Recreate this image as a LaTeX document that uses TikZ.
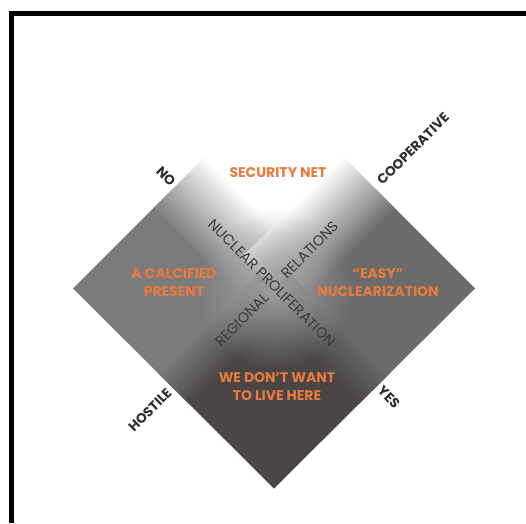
\documentclass[tikz,border=0pt]{standalone}
\usepackage{fontspec}
\setmainfont{Poppins}
\usepackage{tikz}
\usetikzlibrary{fadings}
\definecolor{Tangerine}{HTML}{E97A3D}
\definecolor{LeftGray}{HTML}{7C7B7B}
\definecolor{RightGray}{HTML}{6B6B6B}
\definecolor{LowGray}{HTML}{4A4646}
\definecolor{MidGray}{HTML}{A0A0A0}
\definecolor{AxisInk}{HTML}{2E2E2E}
\definecolor{CrossInk}{HTML}{3A3A3A}
\tikzfading[name=glowfade,inner color=transparent!0,outer color=transparent!100]

\begin{document}
\begin{tikzpicture}[x=1pt,y=1pt,
    field/.style={text=Tangerine,font=\bfseries\fontsize{14}{18}\selectfont,align=center,inner sep=0pt},
    axis/.style={text=AxisInk,font=\bfseries\fontsize{13.5}{13.5}\selectfont,inner sep=0pt},
    cross/.style={text=CrossInk,font=\fontsize{14.5}{14.5}\selectfont,inner sep=0pt}]
    \useasboundingbox (-274,-234.5) rectangle (252,288.5);
    \fill[white] (-274,-234.5) rectangle (252,288.5);
    \draw[line width=5pt] (-262.5,-234.5) -- (-262.5,275) -- (252,275);

    % the rotated 2x2 field
    \begin{scope}
        \clip (-201,0) -- (0,201) -- (201,0) -- (0,-200) -- cycle;
        \begin{scope}[transform canvas={rotate=45}]
            \fill[LeftGray] (-143,0) rectangle (0,143);
            \fill[RightGray] (0,-143) rectangle (143,0);
            \fill[LowGray] (-143,-143) rectangle (0,0);
            \fill[white] (0,0) rectangle (143,143);
            \shade[left color=LeftGray,right color=white] (-30,0) rectangle (45,143);
            \shade[bottom color=RightGray,top color=white] (0,-30) rectangle (143,45);
            \shade[bottom color=LowGray,top color=LeftGray] (-143,-22) rectangle (0,22);
            \shade[left color=LowGray,right color=RightGray] (-22,-143) rectangle (22,0);
        \end{scope}
        \fill[MidGray,path fading=glowfade] (0,0) circle (80);
    \end{scope}

    \node[field] (secnet) at (4,115.5) {SECURITY NET};
    \node[field] (calcified) at (-100,5.5) {A CALCIFIED\\PRESENT};
    \node[field] (easy) at (104,5.5) {“EASY”\\NUCLEARIZATION};
    \node[field] (livehere) at (3,-98) {WE DON’T WANT\\TO LIVE HERE};

    \node[cross,rotate=-45] (prolif) at (-2,5.5) {NUCLEAR PROLIFERATION};
    \node[cross,rotate=45] (regional) at (-32,-31.5) {REGIONAL};
    \node[cross,rotate=45] (relations) at (36,38.5) {RELATIONS};

    \node[axis,rotate=-45] (no) at (-108,112.5) {NO};
    \node[axis,rotate=45] (coop) at (139,139.5) {COOPERATIVE};
    \node[axis,rotate=45] (hostile) at (-124,-121.5) {HOSTILE};
    \node[axis,rotate=-45] (yes) at (115,-108.5) {YES};
\end{tikzpicture}
\end{document}
